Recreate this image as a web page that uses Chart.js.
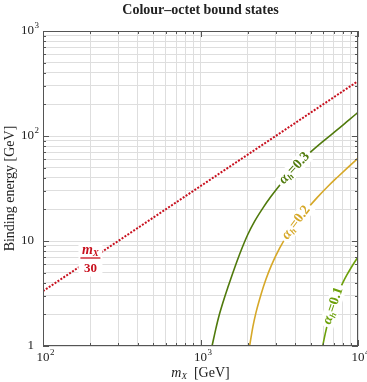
<!DOCTYPE html>
<html>
<head>
<meta charset="utf-8">
<script src="https://cdn.jsdelivr.net/npm/chart.js@4.4.1/dist/chart.umd.min.js"></script>
<style>
  html, body { margin: 0; padding: 0; background: #fff; }
  #wrap { width: 367px; height: 382px; position: relative; }
</style>
</head>
<body>
<div id="wrap"><canvas id="chart"></canvas></div>
<script>
"use strict";

// m_X and binding energy, both in GeV
const massLine = [100, 10000];
const energyLine = [3.33, 333.3];

const massA03 = [1184, 1250, 1300, 1400, 1500, 1650, 1820, 2000, 2200, 2500, 2800, 3100, 3500, 4000, 4900, 6000, 7400, 8700, 10000];
const energyA03 = [1.0, 1.45, 1.85, 2.7, 3.7, 5.6, 8.3, 11.6, 15.3, 20.8, 26.5, 32.4, 40.3, 50.5, 68.4, 89, 115, 141, 168];

const massA02 = [2051, 2150, 2250, 2430, 2600, 2810, 3180, 3600, 4100, 4700, 5500, 6500, 7400, 8600, 10000];
const energyA02 = [1.0, 1.52, 2.08, 3.15, 4.3, 5.8, 8.55, 11.7, 15.4, 19.8, 25.9, 33.6, 40.5, 50, 61.5];

const massA01 = [5970, 6200, 6500, 7000, 7500, 8000, 8500, 9000, 9500, 10000];
const energyA01 = [1.0, 1.32, 1.76, 2.5, 3.25, 4.0, 4.75, 5.5, 6.27, 7.05];

const alphaLabels = ["0.3", "0.2", "0.1"];
const alphaLabelMass = [3950, 4050, 6950];

const xDecades = [100, 1000, 10000];
const yDecades = [1, 10, 100, 1000];
const minorSteps = [2, 3, 4, 5, 6, 7, 8, 9];
const xTickLabels = [["10", "2"], ["10", "3"], ["10", "4"]];
const yTickLabels = [["1", ""], ["10", ""], ["10", "2"], ["10", "3"]];

const SERIF = '"Liberation Serif", "DejaVu Serif", serif';
const RED = "rgb(200,16,30)";
const GREEN_DARK = "rgb(80,122,12)";
const GOLD = "rgb(214,168,40)";
const GREEN_LIGHT = "rgb(108,160,10)";

const allTicks = (decades) => {
    const out = [];
    decades.forEach((d, i) => {
        out.push({ value: d, major: true });
        if (i < decades.length - 1) minorSteps.forEach(s => out.push({ value: d * s, major: false }));
    });
    return out;
};
const pts = (ms, es) => ms.map((m, i) => ({ x: m, y: es[i] }));

// energy on a curve at mass m, log-log between listed points (label placement only)
const energyAt = (ms, es, m) => {
    for (let i = 0; i < ms.length - 1; i++) {
        if (m >= ms[i] && m <= ms[i + 1]) {
            const t = Math.log(m / ms[i]) / Math.log(ms[i + 1] / ms[i]);
            return Math.exp(Math.log(es[i]) + t * Math.log(es[i + 1] / es[i]));
        }
    }
    return es[es.length - 1];
};

const drawPow = (ctx, base, exp, x, y, align) => {
    ctx.font = `13px ${SERIF}`;
    const bw = ctx.measureText(base).width;
    const x0 = align === 'right' ? x - bw : x - bw / 2;
    ctx.textAlign = 'left';
    ctx.textBaseline = 'middle';
    ctx.fillText(base, x0, y);
    if (exp) {
        ctx.font = `9px ${SERIF}`;
        ctx.fillText(exp, x0 + bw + 0.5, y - 5);
    }
};

const framePlugin = {
    id: 'frame',
    afterDatasetsDraw(chart) {
        const { ctx, scales } = chart;
        const sx = scales.x, sy = scales.y;

        // alpha labels along the curves
        const curves = [[massA03, energyA03, GREEN_DARK], [massA02, energyA02, GOLD], [massA01, energyA01, GREEN_LIGHT]];
        curves.forEach(([ms, es, col], i) => {
            const m = alphaLabelMass[i];
            const px = sx.getPixelForValue(m), py = sy.getPixelForValue(energyAt(ms, es, m));
            const p1x = sx.getPixelForValue(m * 0.93), p1y = sy.getPixelForValue(energyAt(ms, es, m * 0.93));
            const p2x = sx.getPixelForValue(m * 1.07), p2y = sy.getPixelForValue(energyAt(ms, es, m * 1.07));
            const ang = Math.atan2(p2y - p1y, p2x - p1x);
            ctx.save();
            ctx.translate(px, py);
            ctx.rotate(ang);
            ctx.font = `italic bold 14px ${SERIF}`;
            const wA = ctx.measureText("α").width;
            ctx.font = `italic bold 9px ${SERIF}`;
            const wH = ctx.measureText("h").width;
            ctx.font = `bold 14px ${SERIF}`;
            const wV = ctx.measureText("=" + alphaLabels[i]).width;
            const w = wA + wH + wV;
            ctx.fillStyle = '#fff';
            ctx.fillRect(-w / 2 - 3, -7.5, w + 6, 15);
            ctx.fillStyle = col;
            ctx.textBaseline = 'middle';
            ctx.textAlign = 'left';
            let x = -w / 2;
            ctx.font = `italic bold 14px ${SERIF}`;
            ctx.fillText("α", x, 0); x += wA;
            ctx.font = `italic bold 9px ${SERIF}`;
            ctx.fillText("h", x, 3.5); x += wH;
            ctx.font = `bold 14px ${SERIF}`;
            ctx.fillText("=" + alphaLabels[i], x, 0);
            ctx.restore();
        });

        // m_X / 30 label on the red line
        const mLab = 200;
        const lx = sx.getPixelForValue(mLab), ly = sy.getPixelForValue(mLab / 30);
        ctx.save();
        ctx.fillStyle = '#fff';
        ctx.fillRect(lx - 12, ly - 17, 24, 34);
        ctx.fillStyle = RED;
        ctx.strokeStyle = RED;
        ctx.textBaseline = 'middle';
        ctx.textAlign = 'left';
        ctx.font = `italic bold 14px ${SERIF}`;
        const wm = ctx.measureText("m").width;
        ctx.font = `italic bold 9px ${SERIF}`;
        const wx = ctx.measureText("X").width;
        const tx = lx - (wm + wx) / 2;
        ctx.font = `italic bold 14px ${SERIF}`;
        ctx.fillText("m", tx, ly - 9);
        ctx.font = `italic bold 9px ${SERIF}`;
        ctx.fillText("X", tx + wm, ly - 5.5);
        ctx.lineWidth = 1.3;
        ctx.beginPath();
        ctx.moveTo(lx - 10, ly - 1.5);
        ctx.lineTo(lx + 10, ly - 1.5);
        ctx.stroke();
        ctx.font = `bold 13px ${SERIF}`;
        ctx.textAlign = 'center';
        ctx.fillText("30", lx, ly + 9.5);
        ctx.restore();
    },
    afterDraw(chart) {
        const { ctx, chartArea: a, scales } = chart;
        const sx = scales.x, sy = scales.y;
        ctx.save();
        ctx.strokeStyle = '#555';
        ctx.lineWidth = 1;
        ctx.strokeRect(a.left + 0.5, a.top + 0.5, a.right - a.left - 1, a.bottom - a.top - 1);

        // inward ticks on all four sides
        ctx.beginPath();
        allTicks(xDecades).forEach(t => {
            const x = Math.round(sx.getPixelForValue(t.value)) + 0.5;
            const len = t.major ? 6 : 3;
            ctx.moveTo(x, a.bottom); ctx.lineTo(x, a.bottom - len);
            ctx.moveTo(x, a.top); ctx.lineTo(x, a.top + len);
        });
        allTicks(yDecades).forEach(t => {
            const y = Math.round(sy.getPixelForValue(t.value)) + 0.5;
            const len = t.major ? 6 : 3;
            ctx.moveTo(a.left, y); ctx.lineTo(a.left + len, y);
            ctx.moveTo(a.right, y); ctx.lineTo(a.right - len, y);
        });
        ctx.stroke();

        // tick labels
        ctx.fillStyle = '#222';
        xDecades.forEach((v, i) => {
            drawPow(ctx, xTickLabels[i][0], xTickLabels[i][1], sx.getPixelForValue(v), a.bottom + 12, 'center');
        });
        yDecades.forEach((v, i) => {
            drawPow(ctx, yTickLabels[i][0], yTickLabels[i][1], a.left - 9, sy.getPixelForValue(v), 'right');
        });

        // title
        ctx.font = `bold 14px ${SERIF}`;
        ctx.textAlign = 'center';
        ctx.textBaseline = 'middle';
        ctx.fillText("Colour\u2013octet bound states", (a.left + a.right) / 2, 10);

        // y title
        ctx.save();
        ctx.translate(10, (a.top + a.bottom) / 2);
        ctx.rotate(-Math.PI / 2);
        ctx.font = `14px ${SERIF}`;
        ctx.fillText("Binding energy [GeV]", 0, 0);
        ctx.restore();

        // x title
        ctx.font = `italic 14px ${SERIF}`;
        const w1 = ctx.measureText("m").width;
        ctx.font = `italic 9px ${SERIF}`;
        const w2 = ctx.measureText("X").width;
        ctx.font = `14px ${SERIF}`;
        const w3 = ctx.measureText("  [GeV]").width;
        let x = (a.left + a.right) / 2 - (w1 + w2 + w3) / 2;
        const y = a.bottom + 27;
        ctx.textAlign = 'left';
        ctx.font = `italic 14px ${SERIF}`;
        ctx.fillText("m", x, y); x += w1;
        ctx.font = `italic 9px ${SERIF}`;
        ctx.fillText("X", x, y + 3.5); x += w2;
        ctx.font = `14px ${SERIF}`;
        ctx.fillText("  [GeV]", x, y);
        ctx.restore();
    }
};

const gridScale = (min, max, decades) => ({
    type: 'logarithmic',
    min: min,
    max: max,
    border: { display: false },
    grid: { color: 'rgb(222,222,222)', lineWidth: 1, drawTicks: false },
    ticks: { display: false },
    afterBuildTicks: (scale) => { scale.ticks = allTicks(decades).map(t => ({ value: t.value })); },
    afterFit: (scale) => { if (scale.isHorizontal()) scale.height = 0; else scale.width = 0; }
});

new Chart(document.getElementById('chart'), {
    type: 'scatter',
    data: {
        datasets: [
            { data: pts(massLine, energyLine), borderColor: RED, borderWidth: 2, borderDash: [2, 1.5], showLine: true, pointRadius: 0 },
            { data: pts(massA03, energyA03), borderColor: GREEN_DARK, borderWidth: 1.6, showLine: true, pointRadius: 0, cubicInterpolationMode: 'monotone' },
            { data: pts(massA02, energyA02), borderColor: GOLD, borderWidth: 1.6, showLine: true, pointRadius: 0, cubicInterpolationMode: 'monotone' },
            { data: pts(massA01, energyA01), borderColor: GREEN_LIGHT, borderWidth: 1.6, showLine: true, pointRadius: 0, cubicInterpolationMode: 'monotone' }
        ]
    },
    options: {
        responsive: true,
        maintainAspectRatio: false,
        animation: false,
        layout: { padding: { left: 43, right: 9, top: 31, bottom: 36 } },
        plugins: { legend: { display: false }, title: { display: false }, tooltip: { enabled: false } },
        scales: {
            x: gridScale(100, 10000, xDecades),
            y: gridScale(1, 1000, yDecades)
        }
    },
    plugins: [framePlugin]
});
</script>
</body>
</html>
